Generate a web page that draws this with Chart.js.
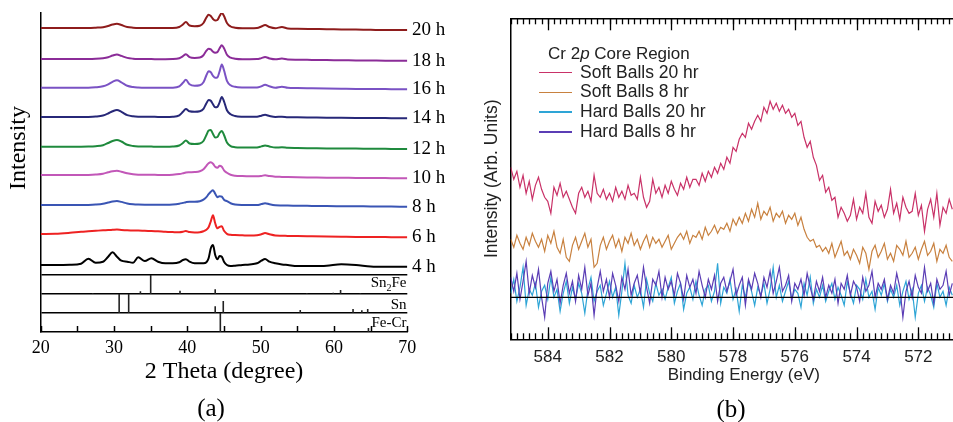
<!DOCTYPE html>
<html><head><meta charset="utf-8">
<script src="https://cdn.jsdelivr.net/npm/chart.js@4.4.0/dist/chart.umd.min.js"></script>
<style>
html,body{margin:0;padding:0;width:953px;height:422px;overflow:hidden;background:#fff;}
#ca{position:absolute;left:0;top:0;}
#cb{position:absolute;left:470px;top:0;}
.t{position:absolute;white-space:nowrap;color:#000;line-height:1;}
.serif{font-family:"Liberation Serif","Times New Roman",serif;}
.sans{font-family:"Liberation Sans",Arial,sans-serif;}
</style></head><body>
<canvas id="ca" width="470" height="422"></canvas>
<canvas id="cb" width="507" height="422"></canvas>
<div id="overlay"></div>
<script>
// ---------- Panel (a): XRD ----------
const xrdTheta = [20,22,24,25.5,26.5,27.5,28.5,29.2,29.8,30.4, 31,31.8,32.6,33.3,34.2,35.1,36,37,38,38.9, 39.4,39.8,40.3,41,41.7,42.2,42.6,42.9,43.2,43.5, 43.8,44.1,44.4,44.7,45.0,45.4,45.9,46.5,47.5,48.5, 49.5,50.1,50.6,51.2,52,52.9,53.7,55,57,59, 61,63,65,67,69,70];
const xrdLabels = ['20 h','18 h','16 h','14 h','12 h','10 h','8 h','6 h','4 h'];
const xrdColors = ['#8e1c1c','#8b2c98','#7a52c4','#272878','#1f8a3d','#c257b8','#3a55b4','#ee2222','#000000'];
const xrd20h = [2,2,2,2,2,2.3,2.8,4,5.5,6.3, 5,3,2.3,2,2,2,2,2,2,3, 5.5,8,4.5,3.8,4.3,7,12.5,15.3,14,11, 9.5,10,14,17,14,7,3.5,2.3,1.8,1.8, 2,3.5,5,3,1.8,3,1.5,1.2,1,0.8, 0.6,0.4,0.2,0,0,0];
const xrd18h = [1.7,1.7,1.7,1.7,1.7,1.9,2.5,3.5,5.2,6.3, 4.8,2.8,2,1.7,1.6,1.6,1.5,1.5,1.6,2.5, 4.5,6.5,3.6,2.8,3.2,5.5,10,12,11.3,9, 8,8.5,12.5,15.5,12.5,6,3,2,1.5,1.5, 1.6,2.6,3.6,2.3,1.4,2.2,1.2,1,0.8,0.6, 0.5,0.3,0.2,0,0,0];
const xrd16h = [1.6,1.6,1.6,1.6,1.6,2,3,5,7.5,9, 7,3.5,2.2,1.8,1.6,1.6,1.5,1.5,1.6,3, 6.5,9.5,5,3.5,4,7,14,18,17,13.5, 11.5,12,18,24.8,19,8.5,4,2.5,1.8,1.7, 1.8,3,4.5,3,1.6,2.6,1.5,1.2,1,0.8, 0.6,0.4,0.3,0.2,0,0];
const xrd14h = [1.3,1.3,1.3,1.3,1.4,1.8,2.8,4.8,7,8.3, 6.5,3.2,2,1.6,1.5,1.5,1.4,1.4,1.6,3, 6.5,9.3,7,6.5,7,9.5,15,18.3,17.5,14, 11,11.5,16,21.3,17,8,4,2.3,1.6,1.5, 1.6,2.6,3.5,2.3,1.3,1.6,1.1,1,0.8,0.6, 0.5,0.4,0.3,0.2,0,0];
const xrd12h = [2.3,2.3,2.3,2.3,2.4,2.8,3.8,6,8,9, 7.5,4.2,3,2.6,2.5,2.4,2.3,2.2,2.4,3.5, 6,8.5,5.5,5,5.5,8,14,18.5,19,15, 11.5,12,16,18,14,6.5,2.8,1.8,1.5,1.4, 1.6,2.6,3.6,2.5,1.4,1.8,1.2,1,0.8,0.6, 0.5,0.4,0.3,0.2,0,0];
const xrd10h = [3.3,3.3,3.3,3.3,3.4,3.8,4.6,6,7,7.5, 6.6,5,4,3.6,3.5,3.5,3.4,3.4,3.6,4.2, 5,5.8,6,6.2,7,9,12.5,15,16,14.5, 11.5,10.5,12.5,11.5,8,5.5,3.5,2.6,2.2,2, 2,2.4,3,2.2,1.6,1.4,1.2,1,0.8,0.6, 0.5,0.4,0.3,0.2,0,0];
const xrd8h = [1.7,1.7,1.7,1.7,1.8,2.2,3,4.2,5.2,5.7, 4.8,3.2,2.4,2.1,2,2,2,2,2.2,3, 3.8,4.5,5,5,5.5,7,9.5,12.5,15,16.5, 13,9.5,10.5,10,7,5.5,3.5,2.3,1.7,1.6, 1.7,2.6,3.5,2.4,1.4,1.2,1.1,1,0.8,0.6, 0.5,0.4,0.3,0.2,0,0];
const xrd6h = [3.3,3.5,4.5,5.5,6,6.5,7,7.2,7.5,7.8, 7.4,7,6.8,6.8,6.5,6.3,6,5.5,5.2,5, 5.5,6.3,5.2,4.8,5,6,7.5,10,16,22, 14,9,10.5,11,6.5,3.5,2.5,2.2,2,1.8, 2,3,4.2,3,1.8,1.6,1.4,1.2,1,0.8, 0.6,0.4,0.3,0.2,0,0];
const xrd4h = [1.7,1.7,1.9,3,8,4,5,10,14.4,10, 6,5,4,9.4,5.7,8.4,5,3.4,3.4,4.4, 6.7,7.4,5,3.4,3.4,3.4,4.4,8.4,18.4,21.7, 11.7,7.4,10.7,10,5,1.7,0.7,1,1.7,2.3, 3.4,6,7.7,5,3.4,2.3,1.7,0.7,0.7,1, 2.4,1.7,0.3,0,0,0];
const xrdSeries = [xrd20h, xrd18h, xrd16h, xrd14h, xrd12h, xrd10h, xrd8h, xrd6h, xrd4h];
const xrdOffsets = [302, 271.3, 242.7, 213.7, 183, 153.7, 125.3, 94.7, 65.3];
const xrdTicks = [20,30,40,50,60,70];
const xrdTickMarks = [20,25,30,35,40,45,50,55,60,65,70];
// reference stick patterns
const refNames = ['Sn<sub style="font-size:10px">2</sub>Fe','Sn','Fe-Cr'];
const refBases = [38, 19, 0];
const refTops = [57, 38, 19];
const refSn2FeTheta = [27.1, 33.6, 35.0, 39.0, 43.8, 56.3, 59.9, 60.9, 63.6];
const refSn2FeHeight = [0.8, 2.7, 19, 3.3, 4.7, 0.8, 1.3, 4, 0.8];
const refSnTheta = [30.7, 32.0, 43.8, 44.9, 55.4, 62.6, 63.8, 64.6];
const refSnHeight = [19, 19, 6.7, 12, 3, 4, 2.7, 4];
const refFeCrTheta = [44.5, 64.7];
const refFeCrHeight = [19, 4];

// ---------- Panel (b): XPS ----------
const xpsEnergy = [585.2,585.1,585.0,584.9,584.8,584.7,584.6,584.5,584.4,584.3,
584.2,584.1,584.0,583.9,583.8,583.7,583.6,583.5,583.4,583.3,
583.2,583.1,583.0,582.9,582.8,582.7,582.6,582.5,582.4,582.3,
582.2,582.1,582.0,581.9,581.8,581.7,581.6,581.5,581.4,581.3,
581.2,581.1,581.0,580.9,580.8,580.7,580.6,580.5,580.4,580.3,
580.2,580.1,580.0,579.9,579.8,579.7,579.6,579.5,579.4,579.3,
579.2,579.1,579.0,578.9,578.8,578.7,578.6,578.5,578.4,578.3,
578.2,578.1,578.0,577.9,577.8,577.7,577.6,577.5,577.4,577.3,
577.2,577.1,577.0,576.9,576.8,576.7,576.6,576.5,576.4,576.3,
576.2,576.1,576.0,575.9,575.8,575.7,575.6,575.5,575.4,575.3,
575.2,575.1,575.0,574.9,574.8,574.7,574.6,574.5,574.4,574.3,
574.2,574.1,574.0,573.9,573.8,573.7,573.6,573.5,573.4,573.3,
573.2,573.1,573.0,572.9,572.8,572.7,572.6,572.5,572.4,572.3,
572.2,572.1,572.0,571.9,571.8,571.7,571.6,571.5,571.4,571.3,
571.2,571.1,571.0,570.9];
const xpsSoft20 = [130,118,126,110,122,104,116,98,112,120,
108,100,96,84,110,102,114,100,106,98,
90,84,104,110,100,106,96,122,104,100,
108,98,104,96,110,100,106,98,112,102,
104,98,120,100,90,96,118,104,110,100,
112,104,116,108,102,114,108,120,110,118,
118,112,124,116,126,120,130,124,134,128,
140,134,150,146,158,164,160,174,168,176,
182,176,190,184,196,188,194,186,192,184,
188,180,184,172,176,160,150,156,140,132,
117,122,105,110,97,100,80,90,84,76,
82,98,78,90,84,104,80,74,96,86,
92,80,88,108,84,94,78,100,90,84,
86,104,82,92,66,88,98,80,104,72,
90,84,98,88];
const xpsSoft8 = [58,50,62,54,48,60,52,64,56,50,
58,46,62,54,66,50,44,58,40,36,
52,60,48,56,64,50,58,30,34,52,
60,48,56,62,50,58,46,60,54,64,
52,58,48,56,62,50,60,54,58,50,
56,62,48,54,60,64,58,66,54,62,
60,66,58,70,62,66,72,64,70,68,
74,66,78,72,80,74,84,76,88,80,
94,78,86,82,90,76,84,80,86,74,
82,78,84,72,80,68,60,56,58,50,
52,46,50,44,54,40,48,56,42,46,
38,48,42,34,50,44,28,46,52,40,
46,54,38,44,36,52,48,42,56,40,
44,50,38,48,56,42,46,54,36,48,
44,52,40,36];
const xpsHard20 = [4,18,-4,10,30,-8,8,2,14,-10,
6,12,-2,20,0,8,-14,4,16,-6,
10,-2,14,4,-16,8,20,-4,6,12,
-8,4,16,0,10,-18,6,34,2,-6,
12,0,8,-10,18,4,-4,14,2,8,
-2,10,20,-6,6,14,-12,4,10,-2,
16,2,-8,8,12,-4,6,34,-6,10,
4,18,-2,8,-14,12,0,16,6,-8,
10,2,14,-6,8,30,0,12,-4,6,
16,-2,8,4,-10,14,2,20,-6,8,
0,12,-4,6,14,-2,10,2,-8,16,
4,-6,12,8,-2,18,0,6,-12,10,
2,14,-4,8,0,12,-8,6,16,-2,
8,-20,4,12,-4,10,2,-10,14,0,
6,-8,10,2];
const xpsHard8 = [20,6,24,-2,16,36,4,22,10,28,
0,-20,14,26,6,18,-6,12,24,4,
16,-4,22,8,30,2,14,-18,10,26,
6,18,0,24,12,-4,20,8,28,2,
14,22,4,30,10,-6,18,12,26,0,
20,8,16,2,24,14,-2,22,10,18,
4,26,12,0,18,8,22,-4,14,20,
6,16,28,2,12,20,-8,18,8,24,
14,0,20,10,26,4,16,30,6,12,
22,-4,14,8,18,2,24,10,-2,16,
6,20,0,12,4,18,-6,14,8,22,
2,16,10,-4,20,6,12,26,0,14,
8,18,-2,12,4,24,10,-20,6,16,
0,22,10,4,30,6,14,-6,18,8,
12,26,2,14];
const xpsNames = ['Soft Balls 20 hr','Soft Balls 8 hr','Hard Balls 20 hr','Hard Balls 8 hr'];
const xpsColors = ['#c93268','#c8813f','#2ea5d6','#5b3db5'];
const xpsSeries = [xpsSoft20, xpsSoft8, xpsHard20, xpsHard8];
const xpsTicks = [584,582,580,578,576,574,572];

const SERIF = '"Liberation Serif","Times New Roman",serif';
const SANS = '"Liberation Sans",Arial,sans-serif';

// plugin: inward tick marks drawn at scale positions
const inwardTicks = {
  id: 'inwardTicks',
  afterDraw(chart, args, opts) {
    const ctx = chart.ctx;
    ctx.save();
    ctx.strokeStyle = opts.color || '#000';
    ctx.lineWidth = opts.width || 1;
    (opts.sets || []).forEach(set => {
      const scale = chart.scales[set.axis];
      const edge = set.side === 'top' ? chart.chartArea.top : chart.chartArea.bottom;
      const dir = set.side === 'top' ? 1 : -1;
      set.values.forEach(v => {
        const x = Math.round(scale.getPixelForValue(v)) + 0.5;
        if (x < chart.chartArea.left - 1 || x > chart.chartArea.right + 1) return;
        ctx.beginPath(); ctx.moveTo(x, edge); ctx.lineTo(x, edge + dir * set.length); ctx.stroke();
      });
    });
    ctx.restore();
  }
};
function zeroPad(s) { s.paddingTop = 0; s.paddingBottom = 0; s.paddingLeft = 0; s.paddingRight = 0; }

// ----- build chart A -----
const dsA = xrdSeries.map((vals, k) => ({
  label: xrdLabels[k],
  data: xrdTheta.map((t, i) => ({x: t, y: xrdOffsets[k] + vals[i]})),
  borderColor: xrdColors[k], borderWidth: 2, pointRadius: 0,
  cubicInterpolationMode: 'monotone', fill: false
}));
function sticks(thetas, heights, base) {
  const pts = [];
  thetas.forEach((t, i) => { pts.push({x: t, y: base}, {x: t, y: base + heights[i]}, {x: t, y: null}); });
  return pts;
}
[[refSn2FeTheta, refSn2FeHeight], [refSnTheta, refSnHeight], [refFeCrTheta, refFeCrHeight]].forEach((r, k) => {
  dsA.push({label: 'ref' + k, data: sticks(r[0], r[1], refBases[k]), borderColor: '#222', borderWidth: 1.6,
    pointRadius: 0, tension: 0, spanGaps: false, fill: false});
});

new Chart(document.getElementById('ca'), {
  type: 'line',
  data: {datasets: dsA},
  options: {
    responsive: false, animation: false, devicePixelRatio: 1,
    layout: {padding: {top: 13, left: 0, right: 0, bottom: 35.6}},
    plugins: {legend: {display: false}, tooltip: {enabled: false},
      inwardTicks: {color: '#000', width: 1.5, sets: [{axis: 'x', side: 'bottom', values: xrdTickMarks, length: 6}]}},
    scales: {
      x: {type: 'linear', axis: 'x', position: 'bottom', min: 20, max: 70,
        afterBuildTicks: s => { s.ticks = xrdTicks.map(v => ({value: v})); },
        afterFit: s => { s.height = 54.4; zeroPad(s); },
        ticks: {font: {family: SERIF, size: 18}, color: '#000', padding: 5.5, maxRotation: 0, autoSkip: false},
        grid: {display: false, drawTicks: false},
        border: {display: true, color: '#000', width: 1.5},
        title: {display: true, text: '2 Theta (degree)', font: {family: SERIF, size: 24}, color: '#000', padding: {top: 0, bottom: 0}}},
      y: {type: 'linear', axis: 'y', position: 'left', min: 0, max: 319,
        afterBuildTicks: s => { s.ticks = refTops.map(v => ({value: v})); },
        afterFit: s => { s.width = 40.7; zeroPad(s); },
        ticks: {display: false},
        grid: {display: true, color: '#000', lineWidth: 1.5, drawTicks: false},
        border: {display: true, color: '#000', width: 1.5}},
      yr: {type: 'linear', axis: 'y', position: 'right', min: 0, max: 319,
        afterBuildTicks: s => { s.ticks = xrdOffsets.map(v => ({value: v})); },
        afterFit: s => { s.width = 62.7; zeroPad(s); },
        ticks: {font: {family: SERIF, size: 19}, color: '#000', padding: 4.7, autoSkip: false,
          callback: v => xrdLabels[xrdOffsets.indexOf(v)]},
        grid: {display: false, drawTicks: false},
        border: {display: false}}
    }
  },
  plugins: [inwardTicks]
});

// ----- build chart B -----
const xpsMinor = [];
for (let v = 5702; v <= 5852; v += 2) xpsMinor.push(v / 10);
const dsB = [{label: 'zero', data: [{x: 585.2, y: 0}, {x: 570.1, y: 0}], borderColor: '#000', borderWidth: 1.3, pointRadius: 0}];
[3, 2, 1, 0].forEach(k => {
  dsB.push({label: xpsNames[k], data: xpsEnergy.map((e, i) => ({x: e, y: xpsSeries[k][i]})),
    borderColor: xpsColors[k], borderWidth: 1.2, pointRadius: 0, tension: 0, fill: false});
});
new Chart(document.getElementById('cb'), {
  type: 'line',
  data: {datasets: dsB},
  options: {
    responsive: false, animation: false, devicePixelRatio: 1,
    layout: {padding: {top: 18.3, left: 0, right: 0, bottom: 36.8}},
    plugins: {legend: {display: false}, tooltip: {enabled: false},
      inwardTicks: {color: '#000', width: 1.3, sets: [
        {axis: 'x', side: 'bottom', values: xpsMinor, length: 6},
        {axis: 'x', side: 'bottom', values: xpsTicks, length: 12},
        {axis: 'x', side: 'top', values: xpsMinor, length: 6},
        {axis: 'x', side: 'top', values: xpsTicks, length: 12}]}},
    scales: {
      x: {type: 'linear', axis: 'x', position: 'bottom', reverse: true, min: 570.1, max: 585.2,
        afterBuildTicks: s => { s.ticks = xpsTicks.map(v => ({value: v})); },
        afterFit: s => { s.height = 45.9; zeroPad(s); },
        ticks: {font: {family: SANS, size: 17}, color: '#222', padding: 7.5, maxRotation: 0, autoSkip: false},
        grid: {display: false, drawTicks: false},
        border: {display: true, color: '#000', width: 1.5},
        title: {display: true, text: 'Binding Energy (eV)', font: {family: SANS, size: 17}, color: '#222', padding: {top: 0, bottom: 0}}},
      xt: {type: 'linear', axis: 'x', position: 'top', reverse: true, min: 570.1, max: 585.2,
        afterFit: s => { s.height = 0; zeroPad(s); },
        ticks: {display: false},
        grid: {display: false, drawTicks: false},
        border: {display: true, color: '#000', width: 1.5}},
      y: {type: 'linear', axis: 'y', position: 'left', min: -42, max: 279,
        afterFit: s => { s.width = 40.7; zeroPad(s); },
        ticks: {display: false},
        grid: {display: false, drawTicks: false},
        border: {display: true, color: '#000', width: 1.5},
        title: {display: true, text: 'Intensity (Arb. Units)', font: {family: SANS, size: 17.5}, color: '#222', padding: {top: 11.6, bottom: 0}}}
    }
  },
  plugins: [inwardTicks]
});

// ----- text overlays -----
const ov = document.getElementById('overlay');
function addText(html, cls, style) {
  const d = document.createElement('div');
  d.className = 't ' + cls; d.innerHTML = html;
  Object.assign(d.style, style); ov.appendChild(d); return d;
}
addText('Intensity', 'serif', {left: '17px', top: '147.5px', fontSize: '24px', transform: 'translate(-50%,-50%) rotate(-90deg)'});
const refLabelY = [284, 304, 322];
refNames.forEach((n, k) => addText(n, 'serif', {right: (953 - 406.5) + 'px', top: refLabelY[k] + 'px', fontSize: '15px', transform: 'translateY(-50%)'}));
addText('(a)', 'serif', {left: '211px', top: '407px', fontSize: '25px', transform: 'translate(-50%,-50%)'});
addText('(b)', 'serif', {left: '731px', top: '408px', fontSize: '25px', transform: 'translate(-50%,-50%)'});
addText('Cr 2<i>p</i> Core Region', 'sans', {left: '548px', top: '53px', fontSize: '17px', color: '#222', transform: 'translateY(-50%)'});
xpsNames.forEach((n, k) => {
  const cy = 72.7 + k * 19.7;
  const line = document.createElement('div');
  Object.assign(line.style, {position: 'absolute', left: '539px', width: '33px', height: '1.5px', top: (cy - 0.75) + 'px', background: xpsColors[k]});
  ov.appendChild(line);
  addText(n, 'sans', {left: '580px', top: cy + 'px', fontSize: '17.5px', color: '#222', transform: 'translateY(-50%)'});
});
</script></body></html>
